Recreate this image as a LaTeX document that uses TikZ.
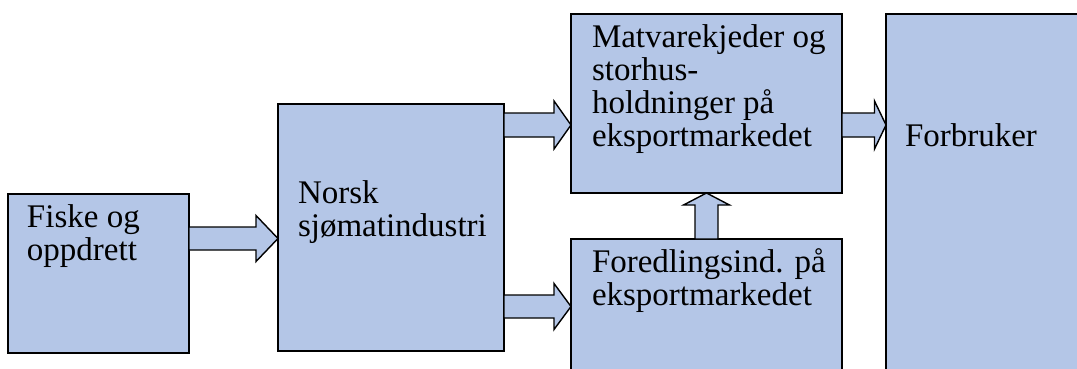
\documentclass[tikz,border=0pt]{standalone}
\usepackage{fontspec}
\setmainfont{Liberation Serif}
\usetikzlibrary{calc}
\definecolor{boxfill}{RGB}{180,198,231}
\tikzset{
  box/.style={draw=black, fill=boxfill, line width=1.5pt, rectangle, anchor=north west, inner sep=0pt, outer sep=0pt},
  lbl/.style={anchor=base west, inner sep=0pt, outer sep=0pt, font=\fontsize{33pt}{33pt}\selectfont},
  blockarr/.style={draw=black, fill=boxfill, line width=1.4pt, line join=miter}
}
% horizontal block arrow: #1 start, #2 end, #3 half shaft width, #4 head length
\newcommand\hblockarrow[4]{%
  \path[blockarr] let \p1=(#1), \p2=(#2) in
    (\x1,\y1+#3) -- (\x2-#4,\y1+#3) -- (\x2-#4,\y1+2*#3) -- (\x2,\y1)
    -- (\x2-#4,\y1-2*#3) -- (\x2-#4,\y1-#3) -- (\x1,\y1-#3) -- cycle;}
% vertical (upward) block arrow
\newcommand\vblockarrow[4]{%
  \path[blockarr] let \p1=(#1), \p2=(#2) in
    (\x1-#3,\y1) -- (\x1-#3,\y2-#4) -- (\x1-2*#3,\y2-#4) -- (\x1,\y2)
    -- (\x1+2*#3,\y2-#4) -- (\x1+#3,\y2-#4) -- (\x1+#3,\y1) -- cycle;}
\begin{document}
\begin{tikzpicture}[x=1pt,y=-1pt]
\useasboundingbox (0,0) rectangle (1077,368);
\clip (0,0) rectangle (1077,368);
\fill[white] (0,0) rectangle (1077,368);

\node[box, minimum width=181pt, minimum height=159pt] (fiske) at (8,194) {};
\node[box, minimum width=226pt, minimum height=247pt] (norsk) at (278,104) {};
\node[box, minimum width=271pt, minimum height=179pt] (matvare) at (571,14) {};
\node[box, minimum width=271pt, minimum height=200pt] (foredling) at (571,239) {};
\node[box, minimum width=250pt, minimum height=400pt] (forbruker) at (886,14) {};

\node[lbl] (tfiske) at (27,227) {\begin{tabular}[t]{@{}l@{}}Fiske og\\oppdrett\end{tabular}};
\node[lbl] (tnorsk) at (298,203) {\begin{tabular}[t]{@{}l@{}}Norsk\\sjømatindustri\end{tabular}};
\node[lbl] (tmatvare) at (592,47) {\begin{tabular}[t]{@{}l@{}}Matvarekjeder og\\storhus-\\holdninger på\\eksportmarkedet\end{tabular}};
\node[lbl] (tforedling) at (592,272) {\begin{tabular}[t]{@{}l@{}}Foredlingsind. på\\eksportmarkedet\end{tabular}};
\node[lbl] (tforbruker) at (905,146) {Forbruker};

\hblockarrow{[yshift=-44.5pt]fiske.north east}{norsk.west}{11.5}{22}
\hblockarrow{[yshift=-21pt]norsk.north east}{matvare.west}{12}{17}
\hblockarrow{[yshift=-202.5pt]norsk.north east}{foredling.west}{11.5}{17}
\hblockarrow{[yshift=-111pt]matvare.north east}{forbruker.west}{12}{11.5}
\vblockarrow{foredling.north}{matvare.south}{11.5}{12}
\end{tikzpicture}
\end{document}
